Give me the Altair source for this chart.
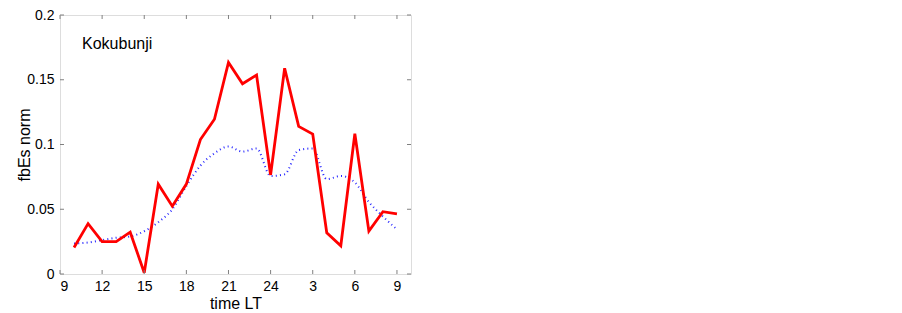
import altair as alt
import pandas as pd

# Hours (local time, continuing past midnight as 25..33)
hours = list(range(10, 34))
red_vals = [0.0205, 0.0389, 0.025, 0.025, 0.0323, 0.001, 0.0694, 0.0524, 0.0694,
            0.1038, 0.1195, 0.1634, 0.1469, 0.1536, 0.0765, 0.1589, 0.114, 0.108,
            0.0318, 0.0218, 0.1083, 0.0331, 0.0481, 0.0464]
blue_vals = [0.0235, 0.0243, 0.0262, 0.028, 0.029, 0.033, 0.040, 0.050, 0.068,
             0.0837, 0.0932, 0.0985, 0.0945, 0.097, 0.0757, 0.077, 0.0957, 0.097,
             0.0732, 0.0757, 0.0707, 0.0556, 0.0444, 0.0344]
x_ticks = [9, 12, 15, 18, 21, 24, 27, 30, 33]
y_ticks = [0, 0.05, 0.1, 0.15, 0.2]
label_text = ["Kokubunji"]
label_x = [10.57]
label_y = [0.1774]

W, H = 351, 259
FONT = "Liberation Sans"
GRAY = "#808080"

df = pd.DataFrame({"h": hours, "red": red_vals, "blue": blue_vals})
xt = pd.DataFrame({"t": x_ticks})
yt = pd.DataFrame({"t": y_ticks})
lab = pd.DataFrame({"text": label_text, "x": label_x, "y": label_y})

xs = alt.Scale(domain=[9, 34], nice=False, zero=False)
ys = alt.Scale(domain=[0, 0.2], nice=False)

xaxis = alt.Axis(values=x_ticks, ticks=False, domain=False, grid=False,
                 labelExpr="datum.value > 24 ? datum.value - 24 : datum.value",
                 labelFontSize=14, labelFont=FONT, labelColor="black", labelPadding=5,
                 title="time LT", titleFontSize=16, titleFont=FONT,
                 titleFontWeight="normal", titleColor="black", titlePadding=2)
yaxis = alt.Axis(values=y_ticks, ticks=False, domain=False, grid=False, format="~g",
                 labelFontSize=14, labelFont=FONT, labelColor="black", labelPadding=6,
                 title="fbEs norm", titleFontSize=16, titleFont=FONT,
                 titleFontWeight="normal", titleColor="black",
                 titleX=-36, titleY=H / 2, titleAngle=270, titleAlign="center",
                 titleBaseline="middle")

blue = alt.Chart(df).mark_line(color="#0000ff", strokeWidth=2, strokeDash=[1, 3.2],
                               opacity=0.85, interpolate="monotone").encode(
    x=alt.X("h:Q", scale=xs, axis=xaxis),
    y=alt.Y("blue:Q", scale=ys, axis=yaxis))

red = alt.Chart(df).mark_line(color="#ff0000", strokeWidth=2.8).encode(
    x=alt.X("h:Q", scale=xs), y=alt.Y("red:Q", scale=ys))

tl = 4
xb = alt.Chart(xt).mark_rule(color=GRAY, strokeWidth=1).encode(
    x=alt.X("t:Q", scale=xs), y=alt.value(H), y2=alt.value(H - tl))
xtop = alt.Chart(xt).mark_rule(color=GRAY, strokeWidth=1).encode(
    x=alt.X("t:Q", scale=xs), y=alt.value(0), y2=alt.value(tl))
yl = alt.Chart(yt).mark_rule(color=GRAY, strokeWidth=1).encode(
    y=alt.Y("t:Q", scale=ys), x=alt.value(0), x2=alt.value(tl))
yr = alt.Chart(yt).mark_rule(color=GRAY, strokeWidth=1).encode(
    y=alt.Y("t:Q", scale=ys), x=alt.value(W), x2=alt.value(W - tl))

txt = alt.Chart(lab).mark_text(align="left", baseline="middle", fontSize=16,
                               font=FONT, color="black").encode(
    x=alt.X("x:Q", scale=xs), y=alt.Y("y:Q", scale=ys), text="text:N")

chart = alt.layer(blue, red, xb, xtop, yl, yr, txt).properties(
    width=W, height=H,
    autosize=alt.AutoSizeParams(type="none"),
    padding={"left": 52, "top": 7, "right": 20, "bottom": 38},
).configure_view(stroke=GRAY, strokeWidth=1).configure(background="white")

chart.save("out.html", embed_options={"renderer": "svg", "actions": False})
